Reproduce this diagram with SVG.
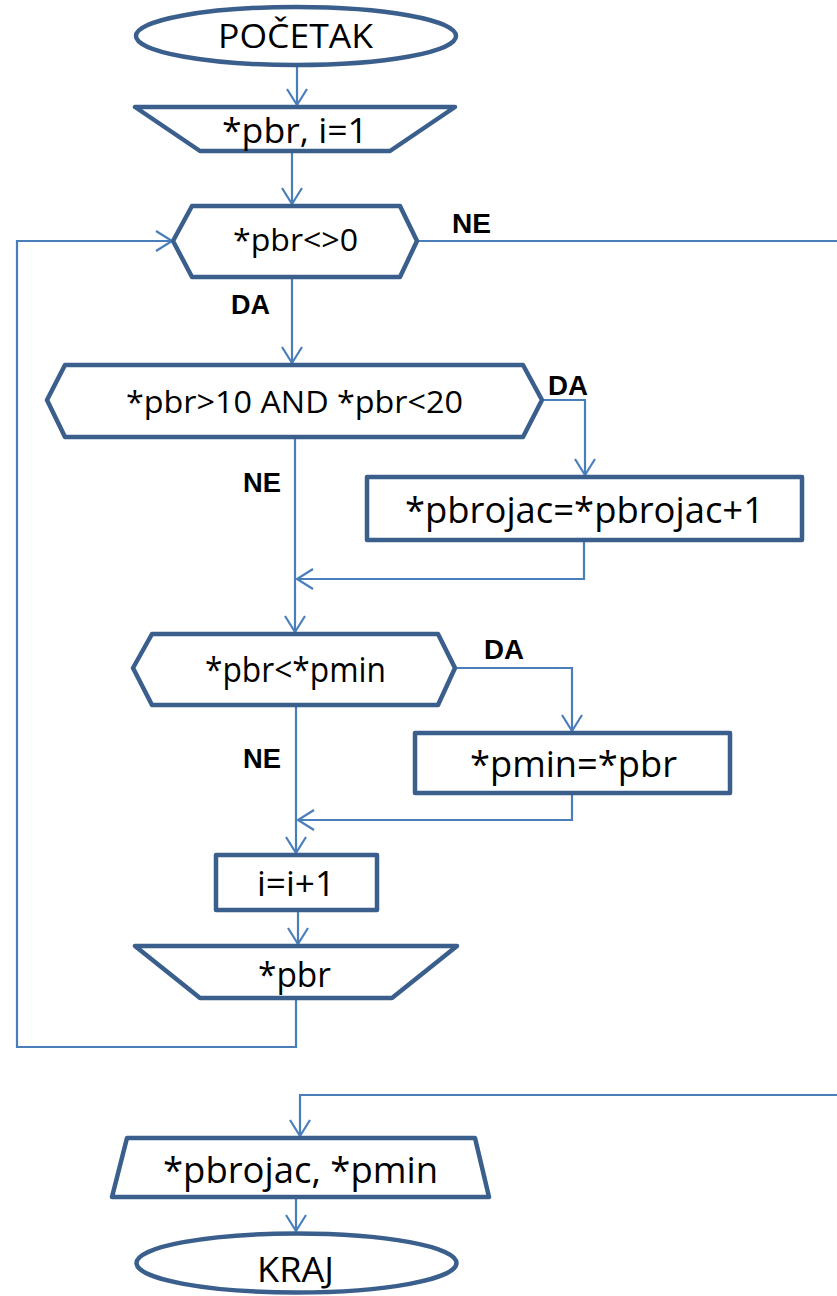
<svg xmlns="http://www.w3.org/2000/svg" width="837" height="1296" viewBox="0 0 837 1296">
  <defs>
    <marker id="arrow" markerUnits="userSpaceOnUse" markerWidth="24" markerHeight="24" viewBox="-18 -12 20 24" refX="0" refY="0" orient="auto">
      <path d="M -16 -10 L 0 0 L -16 10" fill="none" stroke="#4A7EBB" stroke-width="2.2" stroke-linejoin="miter"/>
    </marker>
    <style>
      .shape { fill: #FFFFFF; stroke: #3B5F8D; stroke-width: 4.5; stroke-linejoin: round; }
      .line { fill: none; stroke: #4A7EBB; stroke-width: 2.2; }
      .arr { marker-end: url(#arrow); }
      .txt { font-family: "Open Sans", "Liberation Sans", sans-serif; fill: #000000; }
      .lbl { font-family: "Liberation Sans", Arial, sans-serif; font-weight: bold; font-size: 27px; fill: #000000; }
    </style>
  </defs>

  <rect x="0" y="0" width="837" height="1296" fill="#FFFFFF"/>

  <!-- connectors -->
  <g id="connectors">
    <path class="line arr" d="M 297 65 L 297 105"/>
    <path class="line arr" d="M 292 151 L 292 204"/>
    <path class="line arr" d="M 292 277 L 292 363"/>
    <path class="line arr" d="M 542 400 L 585 400 L 585 475"/>
    <path class="line arr" d="M 295 437 L 295 632"/>
    <path class="line arr" d="M 584 540 L 584 579 L 297 579"/>
    <path class="line arr" d="M 455 668 L 572 668 L 572 731"/>
    <path class="line arr" d="M 296 705 L 296 853"/>
    <path class="line arr" d="M 572 793 L 572 820 L 298 820"/>
    <path class="line arr" d="M 298 910 L 298 944"/>
    <path class="line arr" d="M 296 998 L 296 1047 L 17 1047 L 17 241 L 172 241"/>
    <path class="line arr" d="M 417 241 L 840 241 L 840 1095 L 300 1095 L 300 1136"/>
    <path class="line arr" d="M 296 1197 L 296 1231"/>
  </g>

  <!-- branch labels -->
  <g id="labels">
    <text class="lbl" x="452" y="233" textLength="39" lengthAdjust="spacingAndGlyphs">NE</text>
    <text class="lbl" x="231" y="314" textLength="39" lengthAdjust="spacingAndGlyphs">DA</text>
    <text class="lbl" x="548" y="395" textLength="40" lengthAdjust="spacingAndGlyphs">DA</text>
    <text class="lbl" x="243" y="492" textLength="38" lengthAdjust="spacingAndGlyphs">NE</text>
    <text class="lbl" x="484" y="659" textLength="40" lengthAdjust="spacingAndGlyphs">DA</text>
    <text class="lbl" x="243" y="768" textLength="38" lengthAdjust="spacingAndGlyphs">NE</text>
  </g>

  <g id="start">
    <ellipse class="shape" cx="296" cy="36" rx="160" ry="29"/>
    <text class="txt" x="218" y="48" font-size="33" textLength="155" lengthAdjust="spacingAndGlyphs">POČETAK</text>
  </g>

  <g id="input-pbr-i">
    <polygon class="shape" points="135,107 455,107 390,151 200,151"/>
    <text class="txt" x="222" y="143" font-size="35" textLength="146" lengthAdjust="spacingAndGlyphs">*pbr, i=1</text>
  </g>

  <g id="cond-pbr-nonzero">
    <polygon class="shape" points="192,206 400,206 417,241 400,277 192,277 173,241"/>
    <text class="txt" x="233" y="251" font-size="31" textLength="125" lengthAdjust="spacingAndGlyphs">*pbr&lt;&gt;0</text>
  </g>

  <g id="cond-range">
    <polygon class="shape" points="65,365 523,365 542,400 523,437 65,437 47,400"/>
    <text class="txt" x="126" y="413" font-size="31" textLength="337" lengthAdjust="spacingAndGlyphs">*pbr&gt;10 AND *pbr&lt;20</text>
  </g>

  <g id="count-inc">
    <rect class="shape" x="367" y="477" width="435" height="63"/>
    <text class="txt" x="405" y="523" font-size="36" textLength="359" lengthAdjust="spacingAndGlyphs">*pbrojac=*pbrojac+1</text>
  </g>

  <g id="cond-min">
    <polygon class="shape" points="152,634 438,634 455,668 438,705 152,705 133,668"/>
    <text class="txt" x="205" y="682" font-size="34" textLength="181" lengthAdjust="spacingAndGlyphs">*pbr&lt;*pmin</text>
  </g>

  <g id="set-min">
    <rect class="shape" x="415" y="733" width="315" height="60"/>
    <text class="txt" x="470" y="777" font-size="37" textLength="207" lengthAdjust="spacingAndGlyphs">*pmin=*pbr</text>
  </g>

  <g id="inc-i">
    <rect class="shape" x="216" y="855" width="161" height="55"/>
    <text class="txt" x="257" y="896" font-size="35" textLength="78" lengthAdjust="spacingAndGlyphs">i=i+1</text>
  </g>

  <g id="input-pbr">
    <polygon class="shape" points="135,946 457,946 392,998 200,998"/>
    <text class="txt" x="258" y="987" font-size="35" textLength="73" lengthAdjust="spacingAndGlyphs">*pbr</text>
  </g>

  <g id="output">
    <polygon class="shape" points="127,1138 475,1138 489,1197 112,1197"/>
    <text class="txt" x="163" y="1183" font-size="36" textLength="275" lengthAdjust="spacingAndGlyphs">*pbrojac, *pmin</text>
  </g>

  <g id="end">
    <ellipse class="shape" cx="296.5" cy="1263" rx="160" ry="29.5"/>
    <text class="txt" x="257" y="1282" font-size="34" textLength="77" lengthAdjust="spacingAndGlyphs">KRAJ</text>
  </g>
</svg>
